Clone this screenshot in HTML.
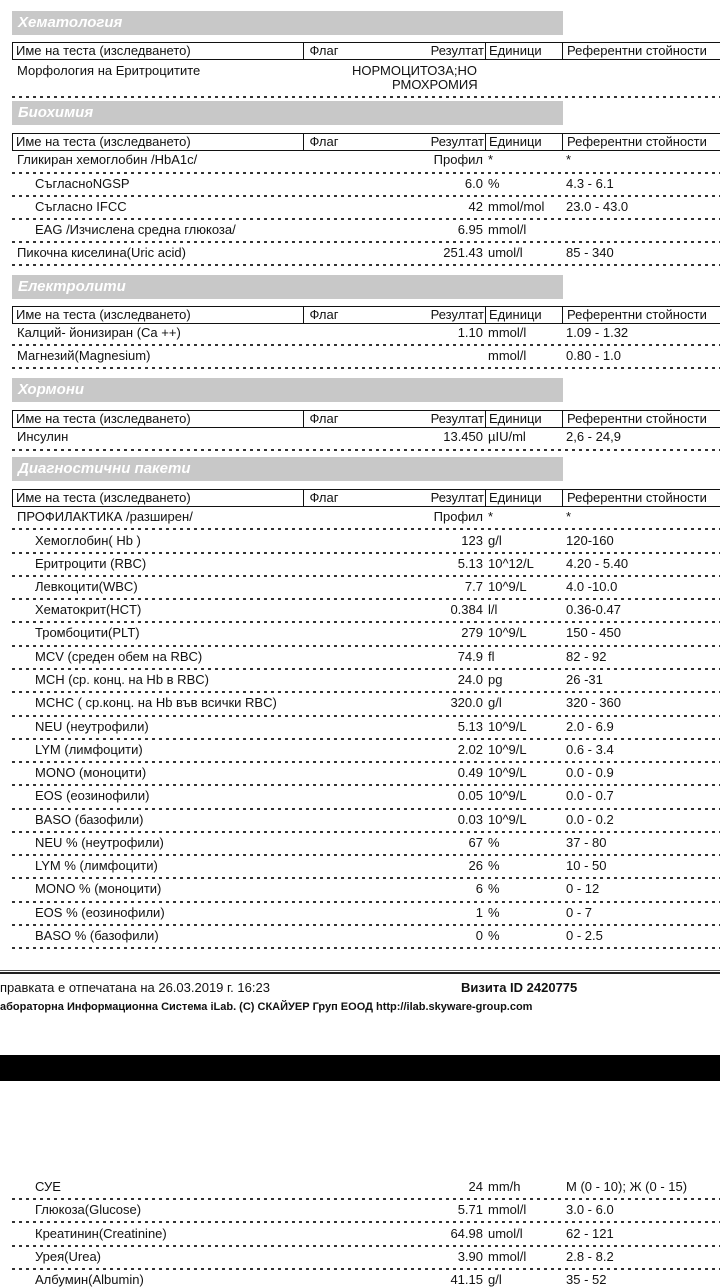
<!DOCTYPE html>
<html><head><meta charset="utf-8"><style>
body{margin:0;width:720px;height:1280px;background:#fff;position:relative;overflow:hidden;font-family:"Liberation Sans",Arial,sans-serif;font-size:13px;color:#111}
.bar{position:absolute;left:12px;width:551px;height:24px;background:#c8c8c8;color:#fff;font-style:italic;font-weight:bold;font-size:15px;line-height:24px;padding-left:6px;box-sizing:border-box}
.hd{position:absolute;left:12px;width:720px;height:18px;border:1.5px solid #111;border-right:none;box-sizing:border-box;line-height:16px}
.hd span{position:absolute;top:0;height:16px}
.hd .c1{left:3px}
.hd .c2{left:290px;width:40px;border-left:1.5px solid #111;text-align:center}
.hd .c3{left:331px;width:140px;text-align:right}
.hd .c4{left:472px;width:77px;border-left:1.5px solid #111;padding-left:3px}
.hd .c5{left:549px;border-left:1.5px solid #111;padding-left:4px;width:200px}
.r{position:absolute;left:0;width:720px;height:16px;line-height:16px}
.r span{position:absolute;top:0;white-space:nowrap}
.n{left:17px}.i{left:35px}
.v{right:237px;text-align:right}
.u{left:488px}
.f{left:566px}
.d{position:absolute;left:12px;width:708px;height:2px;background:repeating-linear-gradient(90deg,#333 0 3px,transparent 3px 7px)}
</style></head><body>

<div class="bar" style="top:11px">Хематология</div>
<div class="hd" style="top:42px"><span class="c1">Име на теста (изследването)</span><span class="c2">Флаг</span><span class="c3">Резултат</span><span class="c4">Единици</span><span class="c5">Референтни стойности</span></div>
<div class="r" style="top:63px"><span class="n">Морфология на Еритроцитите</span><span style="left:352px">НОРМОЦИТОЗА;НО</span></div>
<div class="r" style="top:77px"><span style="left:392px">РМОХРОМИЯ</span></div>
<div class="d" style="top:96px"></div>

<div class="bar" style="top:101px">Биохимия</div>
<div class="hd" style="top:133px"><span class="c1">Име на теста (изследването)</span><span class="c2">Флаг</span><span class="c3">Резултат</span><span class="c4">Единици</span><span class="c5">Референтни стойности</span></div>
<div class="r" style="top:152px"><span class="n">Гликиран хемоглобин /HbA1c/</span><span class="v">Профил</span><span class="u">*</span><span class="f">*</span></div>
<div class="d" style="top:172px"></div>
<div class="r" style="top:176px"><span class="i">СъгласноNGSP</span><span class="v">6.0</span><span class="u">%</span><span class="f">4.3 - 6.1</span></div>
<div class="d" style="top:195px"></div>
<div class="r" style="top:199px"><span class="i">Съгласно IFCC</span><span class="v">42</span><span class="u">mmol/mol</span><span class="f">23.0 - 43.0</span></div>
<div class="d" style="top:218px"></div>
<div class="r" style="top:222px"><span class="i">EAG /Изчислена средна глюкоза/</span><span class="v">6.95</span><span class="u">mmol/l</span></div>
<div class="d" style="top:241px"></div>
<div class="r" style="top:245px"><span class="n">Пикочна киселина(Uric acid)</span><span class="v">251.43</span><span class="u">umol/l</span><span class="f">85 - 340</span></div>
<div class="d" style="top:264px"></div>

<div class="bar" style="top:275px">Електролити</div>
<div class="hd" style="top:306px"><span class="c1">Име на теста (изследването)</span><span class="c2">Флаг</span><span class="c3">Резултат</span><span class="c4">Единици</span><span class="c5">Референтни стойности</span></div>
<div class="r" style="top:325px"><span class="n">Калций- йонизиран (Ca ++)</span><span class="v">1.10</span><span class="u">mmol/l</span><span class="f">1.09 - 1.32</span></div>
<div class="d" style="top:344px"></div>
<div class="r" style="top:348px"><span class="n">Магнезий(Magnesium)</span><span class="u">mmol/l</span><span class="f">0.80 - 1.0</span></div>
<div class="d" style="top:367px"></div>

<div class="bar" style="top:378px">Хормони</div>
<div class="hd" style="top:410px"><span class="c1">Име на теста (изследването)</span><span class="c2">Флаг</span><span class="c3">Резултат</span><span class="c4">Единици</span><span class="c5">Референтни стойности</span></div>
<div class="r" style="top:429px"><span class="n">Инсулин</span><span class="v">13.450</span><span class="u">µIU/ml</span><span class="f">2,6 - 24,9</span></div>
<div class="d" style="top:449px"></div>

<div class="bar" style="top:457px">Диагностични пакети</div>
<div class="hd" style="top:489px"><span class="c1">Име на теста (изследването)</span><span class="c2">Флаг</span><span class="c3">Резултат</span><span class="c4">Единици</span><span class="c5">Референтни стойности</span></div>
<div class="r" style="top:509px"><span class="n">ПРОФИЛАКТИКА  /разширен/</span><span class="v">Профил</span><span class="u">*</span><span class="f">*</span></div>
<div class="d" style="top:528px"></div>
<div class="r" style="top:533px"><span class="i">Хемоглобин( Hb )</span><span class="v">123</span><span class="u">g/l</span><span class="f">120-160</span></div>
<div class="d" style="top:552px"></div>
<div class="r" style="top:556px"><span class="i">Еритроцити (RBC)</span><span class="v">5.13</span><span class="u">10^12/L</span><span class="f">4.20 - 5.40</span></div>
<div class="d" style="top:575px"></div>
<div class="r" style="top:579px"><span class="i">Левкоцити(WBC)</span><span class="v">7.7</span><span class="u">10^9/L</span><span class="f">4.0 -10.0</span></div>
<div class="d" style="top:598px"></div>
<div class="r" style="top:602px"><span class="i">Хематокрит(HCT)</span><span class="v">0.384</span><span class="u">l/l</span><span class="f">0.36-0.47</span></div>
<div class="d" style="top:621px"></div>
<div class="r" style="top:625px"><span class="i">Тромбоцити(PLT)</span><span class="v">279</span><span class="u">10^9/L</span><span class="f">150 - 450</span></div>
<div class="d" style="top:645px"></div>
<div class="r" style="top:649px"><span class="i">MCV (среден обем на RBC)</span><span class="v">74.9</span><span class="u">fl</span><span class="f">82 - 92</span></div>
<div class="d" style="top:668px"></div>
<div class="r" style="top:672px"><span class="i">MCH (ср. конц. на Hb в RBC)</span><span class="v">24.0</span><span class="u">pg</span><span class="f">26 -31</span></div>
<div class="d" style="top:691px"></div>
<div class="r" style="top:695px"><span class="i">MCHC ( ср.конц. на Hb във всички RBC)</span><span class="v">320.0</span><span class="u">g/l</span><span class="f">320 - 360</span></div>
<div class="d" style="top:715px"></div>
<div class="r" style="top:719px"><span class="i">NEU (неутрофили)</span><span class="v">5.13</span><span class="u">10^9/L</span><span class="f">2.0 - 6.9</span></div>
<div class="d" style="top:738px"></div>
<div class="r" style="top:742px"><span class="i">LYM (лимфоцити)</span><span class="v">2.02</span><span class="u">10^9/L</span><span class="f">0.6 - 3.4</span></div>
<div class="d" style="top:761px"></div>
<div class="r" style="top:765px"><span class="i">MONO (моноцити)</span><span class="v">0.49</span><span class="u">10^9/L</span><span class="f">0.0 - 0.9</span></div>
<div class="d" style="top:784px"></div>
<div class="r" style="top:788px"><span class="i">EOS (еозинофили)</span><span class="v">0.05</span><span class="u">10^9/L</span><span class="f">0.0 - 0.7</span></div>
<div class="d" style="top:808px"></div>
<div class="r" style="top:812px"><span class="i">BASO (базофили)</span><span class="v">0.03</span><span class="u">10^9/L</span><span class="f">0.0 - 0.2</span></div>
<div class="d" style="top:831px"></div>
<div class="r" style="top:835px"><span class="i">NEU % (неутрофили)</span><span class="v">67</span><span class="u">%</span><span class="f">37 - 80</span></div>
<div class="d" style="top:854px"></div>
<div class="r" style="top:858px"><span class="i">LYM % (лимфоцити)</span><span class="v">26</span><span class="u">%</span><span class="f">10 - 50</span></div>
<div class="d" style="top:877px"></div>
<div class="r" style="top:881px"><span class="i">MONO % (моноцити)</span><span class="v">6</span><span class="u">%</span><span class="f">0 - 12</span></div>
<div class="d" style="top:901px"></div>
<div class="r" style="top:905px"><span class="i">EOS % (еозинофили)</span><span class="v">1</span><span class="u">%</span><span class="f">0 - 7</span></div>
<div class="d" style="top:924px"></div>
<div class="r" style="top:928px"><span class="i">BASO % (базофили)</span><span class="v">0</span><span class="u">%</span><span class="f">0 - 2.5</span></div>
<div class="d" style="top:947px"></div>

<div style="position:absolute;left:0;top:970px;width:720px;height:1px;background:#555"></div>
<div style="position:absolute;left:0;top:972px;width:720px;height:2px;background:#222"></div>
<div class="r" style="top:980px"><span style="left:0">правката е отпечатана на 26.03.2019 г. 16:23</span><span style="left:461px;font-weight:bold">Визита ID 2420775</span></div>
<div class="r" style="top:999px;font-size:11px;font-weight:bold"><span style="left:0">абораторна Информационна Система iLab. (C) СКАЙУЕР Груп ЕООД http://ilab.skyware-group.com</span></div>

<div style="position:absolute;left:0;top:1055px;width:720px;height:26px;background:#000"></div>

<div class="r" style="top:1179px"><span class="i">СУЕ</span><span class="v">24</span><span class="u">mm/h</span><span class="f">M (0 - 10); Ж (0 - 15)</span></div>
<div class="d" style="top:1198px"></div>
<div class="r" style="top:1202px"><span class="i">Глюкоза(Glucose)</span><span class="v">5.71</span><span class="u">mmol/l</span><span class="f">3.0 - 6.0</span></div>
<div class="d" style="top:1221px"></div>
<div class="r" style="top:1226px"><span class="i">Креатинин(Creatinine)</span><span class="v">64.98</span><span class="u">umol/l</span><span class="f">62 - 121</span></div>
<div class="d" style="top:1245px"></div>
<div class="r" style="top:1249px"><span class="i">Урея(Urea)</span><span class="v">3.90</span><span class="u">mmol/l</span><span class="f">2.8 - 8.2</span></div>
<div class="d" style="top:1268px"></div>
<div class="r" style="top:1272px"><span class="i">Албумин(Albumin)</span><span class="v">41.15</span><span class="u">g/l</span><span class="f">35 - 52</span></div>
</body></html>
